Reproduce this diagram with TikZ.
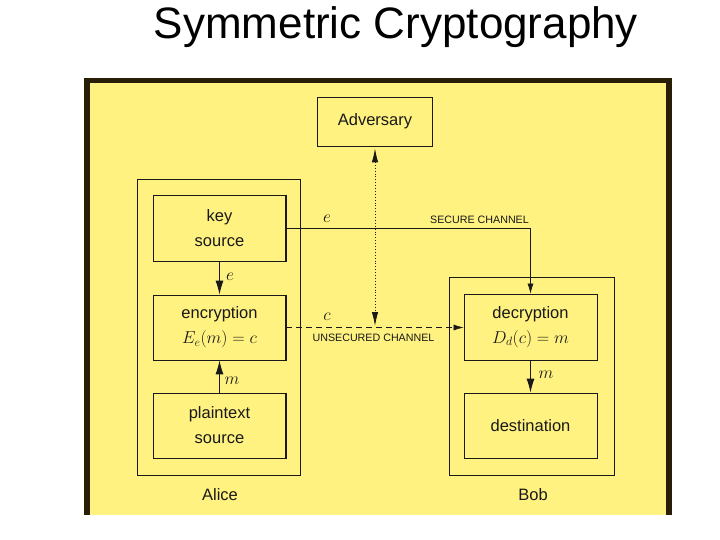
\documentclass[tikz,border=0pt]{standalone}
\usepackage{fontspec}
\setmainfont{Liberation Sans}
\usetikzlibrary{arrows.meta}
\definecolor{panel}{RGB}{255,242,128}
\definecolor{edgec}{RGB}{40,30,6}
\definecolor{ink}{RGB}{25,25,25}
\begin{document}
\begin{tikzpicture}[x=1pt,y=-1pt,
  box/.style={draw=ink, line width=0.8pt, minimum width=133pt, minimum height=65pt,
    inner sep=0pt, align=center, font=\fontsize{16.5}{25}\selectfont, text=ink},
  outer/.style={draw=ink, line width=0.8pt, inner sep=0pt},
  lab/.style={font=\fontsize{16.5}{18}\selectfont, text=ink, inner sep=0pt},
  chan/.style={font=\fontsize{10.7}{12}\selectfont, text=ink, inner sep=0pt},
  arr/.style={draw=ink, line width=0.9pt, -{Latex[length=14pt,width=8pt]}},
  arrs/.style={draw=ink, line width=0.6pt, -{Latex[length=10pt,width=6pt]}},
  dotarr/.style={draw=ink, line width=0.9pt, dotted,
    {Latex[length=14pt,width=6.5pt]}-{Latex[length=14pt,width=6.5pt]}},
  dasharr/.style={draw=ink, line width=0.6pt, dash pattern=on 6pt off 4pt,
    -{Latex[length=10pt,width=6pt]}},
  thickedge/.style={draw=ink, line width=2pt}
]
\useasboundingbox (0,0) rectangle (720,540);
\fill[white] (0,0) rectangle (720,540);
% panel
\fill[panel] (84,78) rectangle (672,515);
\fill[edgec] (84,78) rectangle (90,515);
\fill[edgec] (84,78) rectangle (672,83);
\fill[edgec] (666,78) rectangle (672,515);
% title
\node[font=\fontsize{44}{50}\selectfont, anchor=base, inner sep=0pt] (title) at (396,39) {Symmetric Cryptography};
% outer boxes
\node[outer, minimum width=163pt, minimum height=296pt] (alice) at (218.5,327.5) {};
\node[outer, minimum width=165pt, minimum height=198pt] (bob) at (531.5,376.5) {};
\node[lab] (alicel) at (220,495) {Alice};
\node[lab] (bobl) at (533,495) {Bob};
% boxes
\node[box, minimum width=115pt, minimum height=49pt] (adv) at (375,121.5) {Adversary};
\node[box, minimum height=66pt] (key) at (219.5,228) {key\\source};
\node[box] (enc) at (219.5,327.5) {encryption\\{\fontsize{17.5}{20}\selectfont$E_e(m)=c$}};
\node[box] (plain) at (219.5,425.5) {plaintext\\source};
\node[box, minimum height=66pt] (dec) at (530.5,327) {decryption\\{\fontsize{17.5}{20}\selectfont$D_d(c)=m$}};
\node[box] (dest) at (530.5,425.5) {destination};
\draw[thickedge] (key.north east) -- (key.south east);
\draw[thickedge] (enc.north east) -- (enc.south east);
\draw[thickedge] (plain.north east) -- (plain.south east);
% arrows
\draw[arr] (key.south) -- (enc.north);
\draw[arr] (plain.north) -- (enc.south);
\draw[arr] (dec.south) -- (dest.north);
\draw[arrs] (key.east) -| (dec.north);
\draw[dasharr] (enc.east) -- (enc.east -| dec.west);
\coordinate (tap) at (375,326);
\draw[dotarr, shorten <=2pt] (adv.south) -- (tap);
% labels
\node[lab] (le1) at (230,277) {$e$};
\node[lab] (lm1) at (232,381) {$m$};
\node[lab] (lm2) at (546,375) {$m$};
\node[lab] (le2) at (327,219) {$e$};
\node[lab] (lc) at (327,317) {$c$};
\node[chan] (sec) at (479.5,220) {SECURE CHANNEL};
\node[chan] (unsec) at (373.5,338) {UNSECURED CHANNEL};
\end{tikzpicture}
\end{document}
